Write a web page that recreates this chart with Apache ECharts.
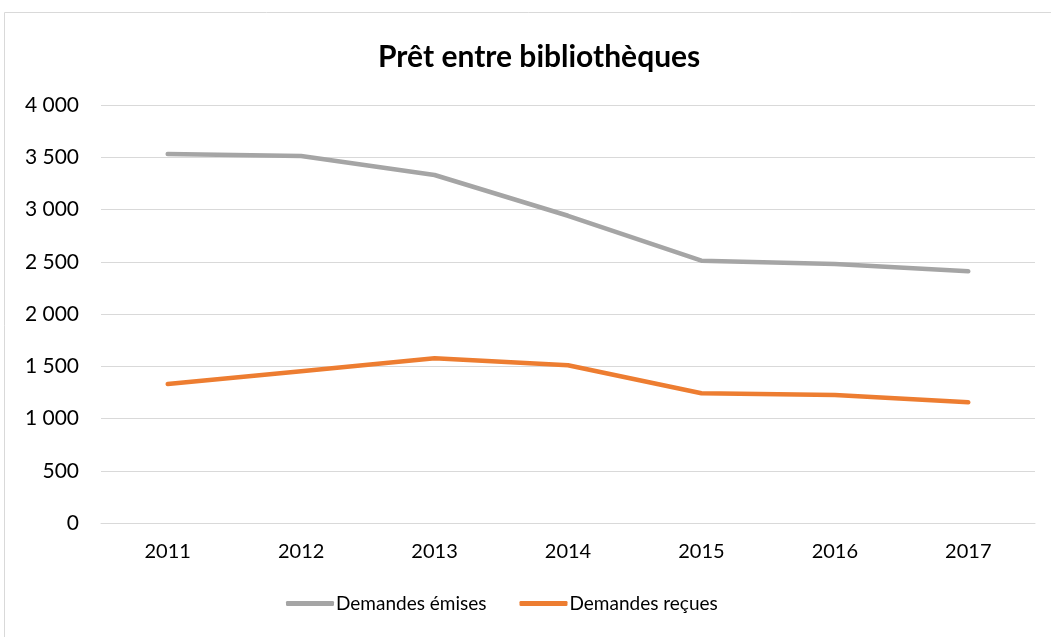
<!DOCTYPE html>
<html><head><meta charset="utf-8">
<script src="https://cdn.jsdelivr.net/npm/echarts@6/dist/echarts.min.js"></script>
<style>html,body{margin:0;padding:0;background:#fff}#c{width:1051px;height:637px}</style>
</head><body><div id="c"></div>
<script>
const categories = ['2011','2012','2013','2014','2015','2016','2017'];
const emises = [3531, 3512, 3330, 2940, 2510, 2478, 2409];
const recues = [1330, 1453, 1576, 1510, 1241, 1225, 1155];
const title = 'Prêt entre bibliothèques';
const seriesNames = ['Demandes émises', 'Demandes reçues'];

const chart = echarts.init(document.getElementById('c'));
const fmt = v => String(v).replace(/\B(?=(\d{3})+(?!\d))/g, ' ');
const font = 'Lato, "Open Sans", sans-serif';
chart.setOption({
  animation: false,
  backgroundColor: '#fff',
  graphic: [{type:'rect', shape:{x:4.5,y:12.5,width:1060,height:640}, style:{fill:'none', stroke:'#D9D9D9', lineWidth:1}}],
  title: {text: title, left: 373, top: 37, textStyle:{fontFamily:font, fontSize:30, fontWeight:'bold', color:'#000'}},
  grid: {left: 101, right: 16, top: 105, bottom: 114, containLabel: false},
  legend: {bottom: 19, left: 281, itemWidth: 48, itemHeight: 5, itemGap: 33, icon: 'roundRect',
    textStyle:{fontFamily:font, fontSize:19, color:'#000', padding:[0,0,0,-3]}, data: seriesNames},
  xAxis: {type:'category', data: categories, boundaryGap:true,
    axisLine:{lineStyle:{color:'#D9D9D9'}}, axisTick:{show:false},
    axisLabel:{fontFamily:font, fontSize:20, color:'#000', margin:19}},
  yAxis: {type:'value', min:0, max:4000, interval:500,
    axisLine:{show:false}, axisTick:{show:false},
    splitLine:{lineStyle:{color:'#D9D9D9', width:1}},
    axisLabel:{fontFamily:font, fontSize:21, color:'#000', margin:22, formatter: fmt}},
  series: [
    {name: seriesNames[0], type:'line', data: emises, symbol:'none', lineStyle:{color:'#A5A5A5', width:4.5, cap:'round', join:'round'}, itemStyle:{color:'#A5A5A5'}},
    {name: seriesNames[1], type:'line', data: recues, symbol:'none', lineStyle:{color:'#ED7D31', width:4.5, cap:'round', join:'round'}, itemStyle:{color:'#ED7D31'}}
  ]
});
</script></body></html>
